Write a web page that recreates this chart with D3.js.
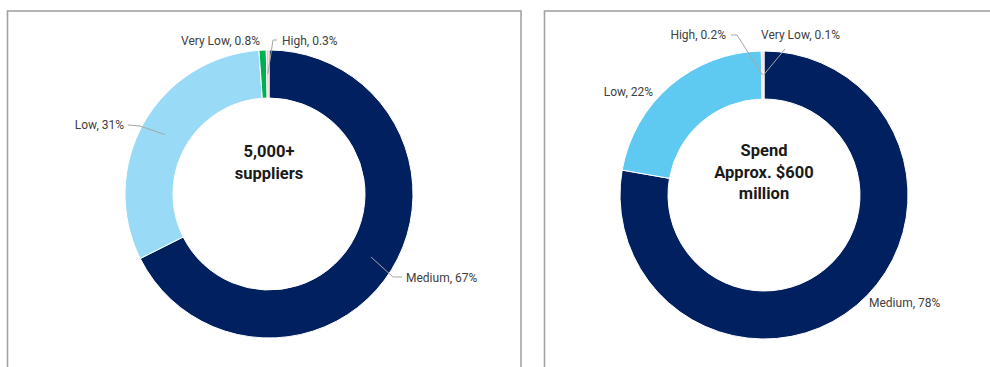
<!DOCTYPE html>
<html>
<head>
<meta charset="utf-8">
<script src="https://cdn.jsdelivr.net/npm/d3@7/dist/d3.min.js"></script>
<style>
  html, body { margin: 0; padding: 0; background: #fff; }
  svg { display: block; }
  .lbl { font-family: Roboto, "Noto Sans", sans-serif; font-size: 12px; fill: #404040; }
  .ctr { font-family: Roboto, "Noto Sans", sans-serif; font-size: 16.5px; font-weight: 700; fill: #1a1a1a; }
  .lead { fill: none; stroke: #a6a6a6; stroke-width: 1; }
</style>
</head>
<body>
<svg id="chart" width="990" height="367"></svg>
<script>
// Supplier risk tiers by count
const supplierCategories = ["Medium", "Low", "Very Low", "High"];
const supplierValues = [67, 31, 0.8, 0.3];
const supplierCenter = ["5,000+", "suppliers"];

// Supplier risk tiers by spend
const spendCategories = ["Medium", "Low", "High", "Very Low"];
const spendValues = [78, 22, 0.2, 0.1];
const spendCenter = ["Spend", "Approx. $600", "million"];

const colorsSupplier = { "Medium": "#00205f", "Low": "#99dbf7", "Very Low": "#00b050", "High": "#f6c2bd" };
const colorsSpend = { "Medium": "#00205f", "Low": "#5ecaf2", "Very Low": "#00b050", "High": "#f6c2bd" };

const svg = d3.select("#chart");

// panel frames
const panels = [
  { x: 7.5, y: 11, w: 513.5, h: 380 },
  { x: 544.5, y: 11, w: 460, h: 380 }
];
svg.selectAll("rect.frame").data(panels).join("rect")
  .attr("class", "frame")
  .attr("x", d => d.x).attr("y", d => d.y)
  .attr("width", d => d.w).attr("height", d => d.h)
  .attr("fill", "none").attr("stroke", "#a3a3a3").attr("stroke-width", 1.6);

const outerR = 144, innerR = 96;
const arc = d3.arc().innerRadius(innerR).outerRadius(outerR);
const midArc = d3.arc().innerRadius(innerR + 4).outerRadius(outerR - 4);

function donut(cfg) {
  const g = svg.append("g").attr("transform", `translate(${cfg.cx},${cfg.cy})`);
  const rows = cfg.categories.map((c, i) => ({ cat: c, value: cfg.values[i] }));
  const pie = d3.pie().sort(null).value(d => d.value);
  const arcs = pie(rows);

  g.selectAll("path.slice").data(arcs).join("path")
    .attr("class", "slice")
    .attr("d", arc)
    .attr("fill", d => cfg.colors[d.data.cat])
    .attr("stroke", "#fff").attr("stroke-width", 1);

  // labels with optional leader lines
  arcs.forEach(a => {
    const spec = cfg.labels[a.data.cat];
    const txt = `${a.data.cat}, ${a.data.value}%`;
    if (spec.leader) {
      const c = midArc.centroid(a);
      const pts = [c].concat(spec.leader);
      g.append("path").attr("class", "lead")
        .attr("d", d3.line()(pts));
    }
    g.append("text").attr("class", "lbl")
      .attr("x", spec.x).attr("y", spec.y)
      .attr("dy", "0.35em")
      .attr("text-anchor", spec.anchor)
      .text(txt);
  });

  const lh = 21.5;
  const n = cfg.center.length;
  g.selectAll("text.ctr").data(cfg.center).join("text")
    .attr("class", "ctr")
    .attr("x", 0)
    .attr("y", (d, i) => (i - (n - 1) / 2) * lh + cfg.centerShift)
    .attr("dy", "0.35em")
    .attr("text-anchor", "middle")
    .text(d => d);
}

donut({
  cx: 269, cy: 194,
  categories: supplierCategories, values: supplierValues,
  colors: colorsSupplier, center: supplierCenter, centerShift: -32,
  labels: {
    "Medium": { x: 137, y: 84, anchor: "start", leader: [[124, 83], [133, 83]] },
    "Low": { x: -145, y: -69, anchor: "end", leader: [[-129, -68], [-141, -69]] },
    "Very Low": { x: -9, y: -153, anchor: "end" },
    "High": { x: 13, y: -153, anchor: "start", leader: [[4, -154], [8, -154]] }
  }
});

donut({
  cx: 764, cy: 195,
  categories: spendCategories, values: spendValues,
  colors: colorsSpend, center: spendCenter, centerShift: -23,
  labels: {
    "Medium": { x: 105, y: 108, anchor: "start" },
    "Low": { x: -111, y: -103, anchor: "end" },
    "High": { x: -38, y: -160, anchor: "end", leader: [[-27, -160], [-33, -160]] },
    "Very Low": { x: -3, y: -160, anchor: "start", leader: [[21, -146]] }
  }
});
</script>
</body>
</html>
